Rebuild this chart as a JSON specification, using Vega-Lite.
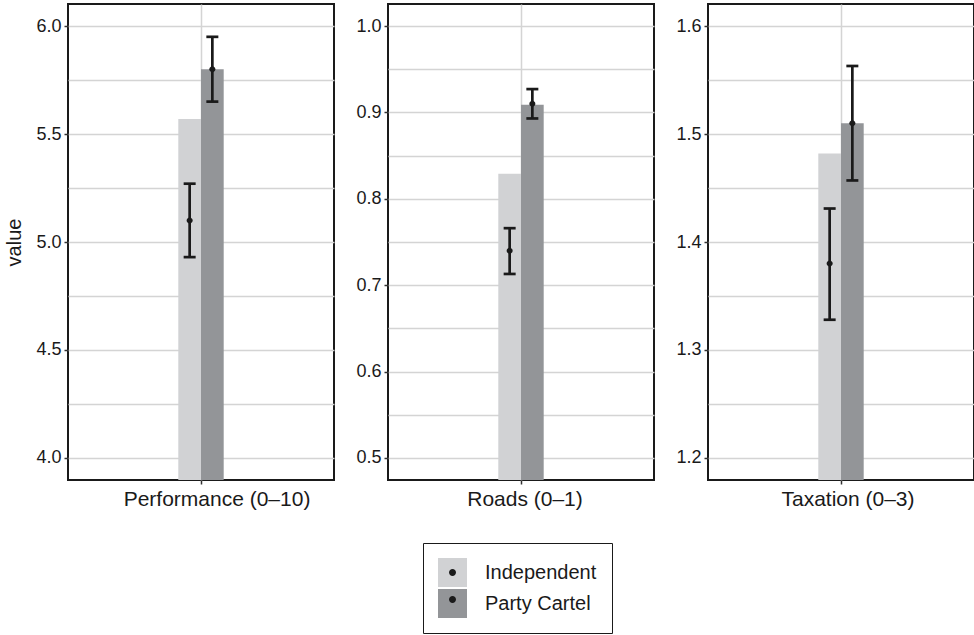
{
  "$schema": "https://vega.github.io/schema/vega-lite/v6.json",
  "padding": {"left": 3, "top": 3, "right": 0, "bottom": 0},
  "config": {
    "font": "Liberation Sans",
    "view": {"stroke": "#1a1a1a", "strokeWidth": 2},
    "axis": {"gridColor": "#d4d4d4", "gridWidth": 1.5, "domain": false, "tickColor": "#333333", "tickWidth": 1.5, "tickSize": 4, "labelColor": "#1a1a1a", "titleColor": "#1a1a1a", "labelLimit": 300},
    "concat": {"spacing": 19}
  },
  "data": {"values": [
    {"measure": "Performance (0–10)", "group": "Independent", "bar": 5.57, "est": 5.10, "lo": 4.93, "hi": 5.27},
    {"measure": "Performance (0–10)", "group": "Party Cartel", "bar": 5.80, "est": 5.80, "lo": 5.65, "hi": 5.95},
    {"measure": "Roads (0–1)", "group": "Independent", "bar": 0.829, "est": 0.740, "lo": 0.713, "hi": 0.766},
    {"measure": "Roads (0–1)", "group": "Party Cartel", "bar": 0.909, "est": 0.910, "lo": 0.893, "hi": 0.927},
    {"measure": "Taxation (0–3)", "group": "Independent", "bar": 1.482, "est": 1.380, "lo": 1.328, "hi": 1.431},
    {"measure": "Taxation (0–3)", "group": "Party Cartel", "bar": 1.510, "est": 1.510, "lo": 1.457, "hi": 1.563}
  ]},
  "hconcat": [
    {
      "width": 266, "height": 476,
      "transform": [{"filter": "datum.measure === 'Performance (0–10)'"}],
      "encoding": {
        "x": {"field": "measure", "type": "nominal", "scale": {"paddingInner": 0.5884, "paddingOuter": 1}, "axis": {"title": null, "labelAngle": 0, "labelFontSize": 21, "labelPadding": 4, "labelLimit": 300, "labelOffset": 16, "grid": true}},
        "xOffset": {"field": "group", "type": "nominal", "scale": {"paddingInner": 0, "paddingOuter": 0}}
      },
      "layer": [
        {"mark": {"type": "bar", "clip": true},
         "encoding": {
           "y": {"field": "bar", "type": "quantitative", "title": "value", "scale": {"domain": [3.898, 6.102], "zero": false, "nice": false},
                 "axis": {"values": [4, 4.25, 4.5, 4.75, 5, 5.25, 5.5, 5.75, 6], "labelExpr": "datum.value*2 % 1 == 0 ? format(datum.value, '.1f') : ''", "tickOpacity": {"condition": {"test": "datum.value*2 % 1 == 0", "value": 1}, "value": 0}, "labelFontSize": 18, "labelPadding": 3, "minExtent": 33, "maxExtent": 33, "title": "value", "titleFontSize": 20, "titleFontWeight": "normal", "titlePadding": 11}},
           "fill": {"field": "group", "type": "nominal", "scale": {"range": ["#d1d2d4", "#939598"]},
                    "legend": {"orient": "none", "legendX": 355, "legendY": 539, "title": null, "symbolType": "square", "symbolSize": 841, "symbolStrokeWidth": 0, "labelFontSize": 20, "labelColor": "#1a1a1a", "labelOffset": 18, "rowPadding": 2, "padding": 15, "strokeColor": "#1a1a1a", "fillColor": "white", "direction": "vertical"}}
         }},
        {"mark": {"type": "rule", "strokeWidth": 2.7, "color": "#1a1a1a"},
         "encoding": {"y": {"field": "lo", "type": "quantitative", "title": "value"}, "y2": {"field": "hi"}}},
        {"mark": {"type": "tick", "thickness": 2.7, "size": 12, "color": "#1a1a1a", "opacity": 1},
         "encoding": {"y": {"field": "lo", "type": "quantitative", "title": "value"}}},
        {"mark": {"type": "tick", "thickness": 2.7, "size": 12, "color": "#1a1a1a", "opacity": 1},
         "encoding": {"y": {"field": "hi", "type": "quantitative", "title": "value"}}},
        {"mark": {"type": "point", "filled": true, "opacity": 1, "color": "#1a1a1a", "size": 625},
         "encoding": {"y": {"field": "est", "type": "quantitative", "title": "value"},
           "shape": {"field": "group", "type": "nominal", "scale": {"domain": ["Independent", "Party Cartel"], "range": ["M-0.24,0A0.24,0.24,0,1,1,0.24,0A0.24,0.24,0,1,1,-0.24,0Z", "M-0.24,0A0.24,0.24,0,1,1,0.24,0A0.24,0.24,0,1,1,-0.24,0Z"]},
             "legend": {"orient": "none", "legendX": 355, "legendY": 539, "title": null, "symbolSize": 841, "symbolFillColor": "#1a1a1a", "symbolStrokeWidth": 0, "labelFontSize": 20, "labelExpr": "''", "labelOffset": 18, "rowPadding": 2, "padding": 15, "direction": "vertical"}}}}
      ]
    },
    {
      "width": 266, "height": 476,
      "transform": [{"filter": "datum.measure === 'Roads (0–1)'"}],
      "encoding": {
        "x": {"field": "measure", "type": "nominal", "scale": {"paddingInner": 0.5884, "paddingOuter": 1}, "axis": {"title": null, "labelAngle": 0, "labelFontSize": 21, "labelPadding": 4, "labelLimit": 300, "labelOffset": 4, "grid": true}},
        "xOffset": {"field": "group", "type": "nominal", "scale": {"paddingInner": 0, "paddingOuter": 0}}
      },
      "layer": [
        {"mark": {"type": "bar", "clip": true},
         "encoding": {
           "y": {"field": "bar", "type": "quantitative", "title": null, "scale": {"domain": [0.4745, 1.0255], "zero": false, "nice": false},
                 "axis": {"values": [0.5, 0.55, 0.6, 0.65, 0.7, 0.75, 0.8, 0.85, 0.9, 0.95, 1.0], "labelExpr": "abs(datum.value*10 - round(datum.value*10)) < 0.01 ? format(datum.value, '.1f') : ''", "tickOpacity": {"condition": {"test": "abs(datum.value*10 - round(datum.value*10)) < 0.01", "value": 1}, "value": 0}, "labelFontSize": 18, "labelPadding": 3, "minExtent": 33, "maxExtent": 33, "title": null}},
           "fill": {"field": "group", "type": "nominal", "scale": {"range": ["#d1d2d4", "#939598"]},
                    "legend": {"orient": "none", "legendX": 355, "legendY": 539, "title": null, "symbolType": "square", "symbolSize": 841, "symbolStrokeWidth": 0, "labelFontSize": 20, "labelColor": "#1a1a1a", "labelOffset": 18, "rowPadding": 2, "padding": 15, "strokeColor": "#1a1a1a", "fillColor": "white", "direction": "vertical"}}
         }},
        {"mark": {"type": "rule", "strokeWidth": 2.7, "color": "#1a1a1a"},
         "encoding": {"y": {"field": "lo", "type": "quantitative", "title": null}, "y2": {"field": "hi"}}},
        {"mark": {"type": "tick", "thickness": 2.7, "size": 12, "color": "#1a1a1a", "opacity": 1},
         "encoding": {"y": {"field": "lo", "type": "quantitative", "title": null}}},
        {"mark": {"type": "tick", "thickness": 2.7, "size": 12, "color": "#1a1a1a", "opacity": 1},
         "encoding": {"y": {"field": "hi", "type": "quantitative", "title": null}}},
        {"mark": {"type": "point", "filled": true, "opacity": 1, "color": "#1a1a1a", "size": 625},
         "encoding": {"y": {"field": "est", "type": "quantitative", "title": null},
           "shape": {"field": "group", "type": "nominal", "scale": {"domain": ["Independent", "Party Cartel"], "range": ["M-0.24,0A0.24,0.24,0,1,1,0.24,0A0.24,0.24,0,1,1,-0.24,0Z", "M-0.24,0A0.24,0.24,0,1,1,0.24,0A0.24,0.24,0,1,1,-0.24,0Z"]},
             "legend": {"orient": "none", "legendX": 355, "legendY": 539, "title": null, "symbolSize": 841, "symbolFillColor": "#1a1a1a", "symbolStrokeWidth": 0, "labelFontSize": 20, "labelExpr": "''", "labelOffset": 18, "rowPadding": 2, "padding": 15, "direction": "vertical"}}}}
      ]
    },
    {
      "width": 266, "height": 476,
      "transform": [{"filter": "datum.measure === 'Taxation (0–3)'"}],
      "encoding": {
        "x": {"field": "measure", "type": "nominal", "scale": {"paddingInner": 0.5884, "paddingOuter": 1}, "axis": {"title": null, "labelAngle": 0, "labelFontSize": 21, "labelPadding": 4, "labelLimit": 300, "labelOffset": 7, "grid": true}},
        "xOffset": {"field": "group", "type": "nominal", "scale": {"paddingInner": 0, "paddingOuter": 0}}
      },
      "layer": [
        {"mark": {"type": "bar", "clip": true},
         "encoding": {
           "y": {"field": "bar", "type": "quantitative", "title": null, "scale": {"domain": [1.1796, 1.6204], "zero": false, "nice": false},
                 "axis": {"values": [1.2, 1.25, 1.3, 1.35, 1.4, 1.45, 1.5, 1.55, 1.6], "labelExpr": "abs(datum.value*10 - round(datum.value*10)) < 0.01 ? format(datum.value, '.1f') : ''", "tickOpacity": {"condition": {"test": "abs(datum.value*10 - round(datum.value*10)) < 0.01", "value": 1}, "value": 0}, "labelFontSize": 18, "labelPadding": 3, "minExtent": 33, "maxExtent": 33, "title": null}},
           "fill": {"field": "group", "type": "nominal", "scale": {"range": ["#d1d2d4", "#939598"]},
                    "legend": {"orient": "none", "legendX": 355, "legendY": 539, "title": null, "symbolType": "square", "symbolSize": 841, "symbolStrokeWidth": 0, "labelFontSize": 20, "labelColor": "#1a1a1a", "labelOffset": 18, "rowPadding": 2, "padding": 15, "strokeColor": "#1a1a1a", "fillColor": "white", "direction": "vertical"}}
         }},
        {"mark": {"type": "rule", "strokeWidth": 2.7, "color": "#1a1a1a"},
         "encoding": {"y": {"field": "lo", "type": "quantitative", "title": null}, "y2": {"field": "hi"}}},
        {"mark": {"type": "tick", "thickness": 2.7, "size": 12, "color": "#1a1a1a", "opacity": 1},
         "encoding": {"y": {"field": "lo", "type": "quantitative", "title": null}}},
        {"mark": {"type": "tick", "thickness": 2.7, "size": 12, "color": "#1a1a1a", "opacity": 1},
         "encoding": {"y": {"field": "hi", "type": "quantitative", "title": null}}},
        {"mark": {"type": "point", "filled": true, "opacity": 1, "color": "#1a1a1a", "size": 625},
         "encoding": {"y": {"field": "est", "type": "quantitative", "title": null},
           "shape": {"field": "group", "type": "nominal", "scale": {"domain": ["Independent", "Party Cartel"], "range": ["M-0.24,0A0.24,0.24,0,1,1,0.24,0A0.24,0.24,0,1,1,-0.24,0Z", "M-0.24,0A0.24,0.24,0,1,1,0.24,0A0.24,0.24,0,1,1,-0.24,0Z"]},
             "legend": {"orient": "none", "legendX": 355, "legendY": 539, "title": null, "symbolSize": 841, "symbolFillColor": "#1a1a1a", "symbolStrokeWidth": 0, "labelFontSize": 20, "labelExpr": "''", "labelOffset": 18, "rowPadding": 2, "padding": 15, "direction": "vertical"}}}}
      ]
    }
  ]
}
